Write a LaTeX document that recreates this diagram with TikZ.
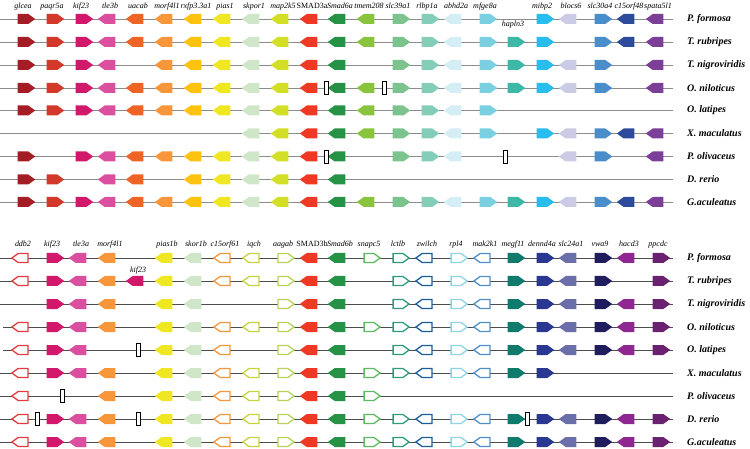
\documentclass[tikz,border=0pt]{standalone}
\usepackage{fontspec}
\setmainfont{Liberation Serif}
\usetikzlibrary{positioning, shapes.symbols}
% gene colours, upper block
\definecolor{colglcea}{HTML}{A51C24}
\definecolor{colpaqr}{HTML}{D2392B}
\definecolor{colkif}{HTML}{D1186A}
\definecolor{coltle}{HTML}{DB4F9F}
\definecolor{coluacab}{HTML}{EF6324}
\definecolor{colmorf}{HTML}{F7963B}
\definecolor{colrxfp}{HTML}{FFC20E}
\definecolor{colpias}{HTML}{F0E723}
\definecolor{colskor}{HTML}{CFE6C9}
\definecolor{colmapk}{HTML}{D3DF26}
\definecolor{colsmadthree}{HTML}{EE3A24}
\definecolor{colsmadsix}{HTML}{259245}
\definecolor{coltmem}{HTML}{8AC43F}
\definecolor{colslcnine}{HTML}{7DC38D}
\definecolor{colrlbp}{HTML}{84CDB9}
\definecolor{colabhd}{HTML}{D5EDF5}
\definecolor{colmfge}{HTML}{7ACFE0}
\definecolor{colhapln}{HTML}{3DB8A7}
\definecolor{colmibp}{HTML}{2ABCEC}
\definecolor{colblocs}{HTML}{CCCBE5}
\definecolor{colslcthirty}{HTML}{4A8DCB}
\definecolor{colcorf}{HTML}{2E4B9B}
\definecolor{colspata}{HTML}{7B3F98}
% gene colours, lower block
\definecolor{colddb}{HTML}{E23B3F}
\definecolor{coliqch}{HTML}{C8D23C}
\definecolor{colaagab}{HTML}{B6D35A}
\definecolor{colsnapc}{HTML}{5BBA62}
\definecolor{collctl}{HTML}{2E9B7A}
\definecolor{colzwilch}{HTML}{1B5C9B}
\definecolor{colrpl}{HTML}{8ED3E6}
\definecolor{colmak}{HTML}{4E8FCB}
\definecolor{colmegf}{HTML}{0E7B6D}
\definecolor{coldennd}{HTML}{2B3891}
\definecolor{colslctwentyfour}{HTML}{6A6EA9}
\definecolor{colvwa}{HTML}{1F1D5E}
\definecolor{colhacd}{HTML}{8E2790}
\definecolor{colppcdc}{HTML}{6A2170}

\begin{document}
\begin{tikzpicture}[x=1pt, y=-1pt,
    gene/.style={signal, draw=none, inner sep=0pt, minimum width=17.5pt,
      minimum height=10pt, signal pointer angle=72},
    fwd/.style={gene, signal to=east},
    rev/.style={gene, signal to=west},
    hollow/.style={fill=white, line width=1.3pt, minimum width=16pt, minimum height=9pt},
    glabel/.style={font=\fontsize{8}{9}\selectfont\itshape, inner sep=0pt, anchor=base},
    species/.style={font=\fontsize{10}{12}\selectfont\bfseries\itshape, inner sep=0pt},
    backbone/.style={line width=0.9pt, draw=black!45},
    backboneb/.style={line width=0.9pt, draw=black!70},
    gapbox/.style={draw=black, fill=white, line width=0.6pt, minimum width=4pt,
      minimum height=13pt, inner sep=0pt},
    % upper block genes
    glcea/.style={fwd, fill=colglcea},
    paqr5a/.style={fwd, fill=colpaqr},
    kif23/.style={fwd, fill=colkif},
    tle3b/.style={rev, fill=coltle},
    uacab/.style={rev, fill=coluacab},
    morf4l1/.style={rev, fill=colmorf},
    rxfp/.style={rev, fill=colrxfp},
    pias1/.style={rev, fill=colpias},
    skpor1/.style={rev, fill=colskor},
    mapk/.style={rev, fill=colmapk},
    SMAD3a/.style={rev, fill=colsmadthree},
    Smad6a/.style={rev, fill=colsmadsix},
    tmem/.style={rev, fill=coltmem},
    slc39a1/.style={fwd, fill=colslcnine},
    rlbp1a/.style={fwd, fill=colrlbp},
    abhd2a/.style={rev, fill=colabhd},
    mfge8a/.style={fwd, fill=colmfge},
    hapln3/.style={fwd, fill=colhapln},
    mibp2/.style={fwd, fill=colmibp},
    blocs6/.style={rev, fill=colblocs},
    slc30a4/.style={fwd, fill=colslcthirty},
    corf48/.style={rev, fill=colcorf},
    spata/.style={rev, fill=colspata},
    % lower block genes
    ddb2/.style={rev, hollow, draw=colddb},
    tle3a/.style={rev, fill=coltle},
    kif23r/.style={rev, fill=colkif},
    pias1b/.style={rev, fill=colpias},
    skor1b/.style={rev, fill=colskor},
    corf61/.style={rev, hollow, draw=colmorf},
    iqch/.style={rev, hollow, draw=coliqch},
    aagab/.style={fwd, hollow, draw=colaagab},
    SMAD3b/.style={rev, fill=colsmadthree},
    Smad6b/.style={rev, fill=colsmadsix},
    snapc5/.style={fwd, hollow, draw=colsnapc},
    lctlb/.style={fwd, hollow, draw=collctl},
    zwilch/.style={rev, hollow, draw=colzwilch},
    rpl4/.style={fwd, hollow, draw=colrpl},
    mak/.style={rev, hollow, draw=colmak},
    megf11/.style={fwd, fill=colmegf},
    dennd4a/.style={fwd, fill=coldennd},
    slc24a1/.style={rev, fill=colslctwentyfour},
    vwa9/.style={fwd, fill=colvwa},
    hacd3/.style={rev, fill=colhacd},
    ppcdc/.style={fwd, fill=colppcdc}]
  \useasboundingbox (0,0) rectangle (750,449);

  % ---------- upper block: gene names ----------
  \node[glabel] (a-glcea) at (23,8.5) {glcea};
  \node[glabel] (a-paqr5a) at (52,8.5) {paqr5a};
  \node[glabel] (a-kif23) at (81,8.5) {kif23};
  \node[glabel] (a-tle3b) at (110,8.5) {tle3b};
  \node[glabel] (a-uacab) at (138,8.5) {uacab};
  \node[glabel] (a-morf4l1) at (167,8.5) {morf4l1};
  \node[glabel] (a-rxfp) at (196,8.5) {rxfp3.3a1};
  \node[glabel] (a-pias1) at (225,8.5) {pias1};
  \node[glabel] (a-skpor1) at (254,8.5) {skpor1};
  \node[glabel] (a-mapk) at (283,8.5) {map2k5};
  \node[glabel] (a-SMAD3a) at (312,8.5) {\upshape SMAD3a};
  \node[glabel] (a-Smad6a) at (340,8.5) {Smad6a};
  \node[glabel] (a-tmem) at (369,8.5) {tmem208};
  \node[glabel] (a-slc39a1) at (398,8.5) {slc39a1};
  \node[glabel] (a-rlbp1a) at (427,8.5) {rlbp1a};
  \node[glabel] (a-abhd2a) at (456,8.5) {abhd2a};
  \node[glabel] (a-mfge8a) at (485,8.5) {mfge8a};
  \node[glabel] (a-hapln3) at (513,26.5) {hapln3};
  \node[glabel] (a-mibp2) at (542,8.5) {mibp2};
  \node[glabel] (a-blocs6) at (571,8.5) {blocs6};
  \node[glabel] (a-slc30a4) at (600,8.5) {slc30a4};
  \node[glabel] (a-corf48) at (629,8.5) {c15orf48};
  \node[glabel] (a-spata) at (658,8.5) {spata5l1};

  % ---------- upper block: backbones ----------
  \foreach \r/\y/\sp in {1/19/P. formosa, 2/42/T. rubripes, 3/65/T. nigroviridis,
      4/88/O. niloticus, 5/110.5/O. latipes, 6/133.5/X. maculatus,
      7/156.5/P. olivaceus, 8/179.5/D. rerio, 9/202/G.aculeatus} {
    \coordinate (a\r) at (0,\y);
    \coordinate (ae\r) at (673,\y);
    \draw[backbone] (a\r) -- (ae\r);
    \node[species, right=14pt of ae\r] (asp\r) {\sp};
  }

  % P. formosa
  \foreach \g in {glcea,paqr5a,kif23,tle3b,uacab,morf4l1,rxfp,pias1,skpor1,mapk,SMAD3a,%
      Smad6a,tmem,slc39a1,rlbp1a,abhd2a,mfge8a,mibp2,blocs6,slc30a4,corf48,spata}
    \node[\g] (a1-\g) at (a-\g |- a1) {};
  % T. rubripes
  \foreach \g in {glcea,paqr5a,kif23,tle3b,uacab,morf4l1,rxfp,pias1,skpor1,mapk,SMAD3a,%
      Smad6a,tmem,slc39a1,rlbp1a,abhd2a,mfge8a,hapln3,mibp2,slc30a4,corf48,spata}
    \node[\g] (a2-\g) at (a-\g |- a2) {};
  % T. nigroviridis
  \foreach \g in {glcea,paqr5a,kif23,tle3b,morf4l1,rxfp,pias1,skpor1,mapk,SMAD3a,%
      Smad6a,slc39a1,rlbp1a,abhd2a,mfge8a,hapln3,mibp2,blocs6,slc30a4,spata}
    \node[\g] (a3-\g) at (a-\g |- a3) {};
  % O. niloticus
  \foreach \g in {glcea,paqr5a,kif23,tle3b,uacab,morf4l1,rxfp,pias1,skpor1,mapk,SMAD3a,%
      Smad6a,tmem,slc39a1,rlbp1a,abhd2a,mfge8a,hapln3,mibp2,blocs6,slc30a4,spata}
    \node[\g] (a4-\g) at (a-\g |- a4) {};
  \node[gapbox] (a4-gap1) at (326,0 |- a4) {};
  \node[gapbox] (a4-gap2) at (384,0 |- a4) {};
  % O. latipes
  \foreach \g in {glcea,paqr5a,kif23,tle3b,uacab,morf4l1,rxfp,pias1,skpor1,mapk,SMAD3a,%
      Smad6a,tmem,slc39a1,rlbp1a,abhd2a,mfge8a}
    \node[\g] (a5-\g) at (a-\g |- a5) {};
  % X. maculatus
  \foreach \g in {skpor1,mapk,SMAD3a,Smad6a,tmem,slc39a1,rlbp1a,abhd2a,mfge8a,%
      mibp2,blocs6,slc30a4,corf48,spata}
    \node[\g] (a6-\g) at (a-\g |- a6) {};
  % P. olivaceus
  \foreach \g in {glcea,kif23,tle3b,uacab,morf4l1,rxfp,pias1,skpor1,mapk,SMAD3a,%
      Smad6a,slc39a1,rlbp1a,abhd2a,blocs6,slc30a4,spata}
    \node[\g] (a7-\g) at (a-\g |- a7) {};
  \node[gapbox] (a7-gap1) at (326,0 |- a7) {};
  \node[gapbox] (a7-gap2) at (505,0 |- a7) {};
  % D. rerio
  \foreach \g in {glcea,paqr5a,tle3b,uacab,rxfp,pias1,skpor1,mapk,SMAD3a,Smad6a}
    \node[\g] (a8-\g) at (a-\g |- a8) {};
  % G.aculeatus
  \foreach \g in {glcea,paqr5a,kif23,tle3b,uacab,morf4l1,rxfp,pias1,skpor1,mapk,SMAD3a,%
      Smad6a,tmem,slc39a1,rlbp1a,abhd2a,mfge8a,hapln3,mibp2,blocs6,slc30a4,corf48,spata}
    \node[\g] (a9-\g) at (a-\g |- a9) {};

  % ---------- lower block: gene names ----------
  \node[glabel] (b-ddb2) at (23,247) {ddb2};
  \node[glabel] (b-kif23) at (52,247) {kif23};
  \node[glabel] (b-tle3a) at (81,247) {tle3a};
  \node[glabel] (b-morf4l1) at (110,247) {morf4l1};
  \node[glabel] (b-kif23r) at (138,272.5) {kif23};
  \node[glabel] (b-pias1b) at (167,247) {pias1b};
  \node[glabel] (b-skor1b) at (196,247) {skor1b};
  \node[glabel] (b-corf61) at (225,247) {c15orf61};
  \node[glabel] (b-iqch) at (254,247) {iqch};
  \node[glabel] (b-aagab) at (283,247) {aagab};
  \node[glabel] (b-SMAD3b) at (312,247) {\upshape SMAD3b};
  \node[glabel] (b-Smad6b) at (340,247) {Smad6b};
  \node[glabel] (b-snapc5) at (369,247) {snapc5};
  \node[glabel] (b-lctlb) at (398,247) {lctlb};
  \node[glabel] (b-zwilch) at (427,247) {zwilch};
  \node[glabel] (b-rpl4) at (456,247) {rpl4};
  \node[glabel] (b-mak) at (485,247) {mak2k1};
  \node[glabel] (b-megf11) at (513,247) {megf11};
  \node[glabel] (b-dennd4a) at (542,247) {dennd4a};
  \node[glabel] (b-slc24a1) at (571,247) {slc24a1};
  \node[glabel] (b-vwa9) at (600,247) {vwa9};
  \node[glabel] (b-hacd3) at (629,247) {hacd3};
  \node[glabel] (b-ppcdc) at (658,247) {ppcdc};

  % ---------- lower block: backbones ----------
  \foreach \r/\x/\y/\sp in {1/0/258/P. formosa, 2/0/281/T. rubripes, 3/0/304/T. nigroviridis,
      4/3/327/O. niloticus, 5/3/350/O. latipes, 6/0/373/X. maculatus,
      7/0/396/P. olivaceus, 8/0/419/D. rerio, 9/0/442/G.aculeatus} {
    \coordinate (b\r) at (\x,\y);
    \coordinate (be\r) at (673,\y);
    \draw[backboneb] (b\r) -- (be\r);
    \node[species, right=14pt of be\r] (bsp\r) {\sp};
  }

  % P. formosa
  \foreach \g in {ddb2,kif23,tle3a,morf4l1,pias1b,skor1b,corf61,iqch,aagab,SMAD3b,Smad6b,%
      snapc5,lctlb,zwilch,rpl4,mak,megf11,dennd4a,slc24a1,vwa9,hacd3,ppcdc}
    \node[\g] (b1-\g) at (b-\g |- b1) {};
  % T. rubripes
  \foreach \g in {ddb2,kif23,tle3a,morf4l1,kif23r,pias1b,skor1b,corf61,iqch,aagab,SMAD3b,%
      Smad6b,lctlb,zwilch,rpl4,mak,megf11,dennd4a,slc24a1,vwa9,ppcdc}
    \node[\g] (b2-\g) at (b-\g |- b2) {};
  % T. nigroviridis
  \foreach \g in {kif23,tle3a,morf4l1,pias1b,skor1b,aagab,SMAD3b,Smad6b,%
      lctlb,zwilch,rpl4,mak,megf11,dennd4a,slc24a1,vwa9,hacd3,ppcdc}
    \node[\g] (b3-\g) at (b-\g |- b3) {};
  % O. niloticus
  \foreach \g in {ddb2,kif23,tle3a,morf4l1,pias1b,skor1b,corf61,iqch,aagab,SMAD3b,Smad6b,%
      snapc5,lctlb,zwilch,rpl4,mak,megf11,dennd4a,slc24a1,vwa9,hacd3,ppcdc}
    \node[\g] (b4-\g) at (b-\g |- b4) {};
  % O. latipes
  \foreach \g in {ddb2,kif23,tle3a,pias1b,skor1b,corf61,aagab,SMAD3b,Smad6b,%
      lctlb,zwilch,rpl4,mak,megf11,dennd4a,slc24a1,vwa9,hacd3,ppcdc}
    \node[\g] (b5-\g) at (b-\g |- b5) {};
  \node[gapbox] (b5-gap1) at (b-kif23r |- b5) {};
  % X. maculatus
  \foreach \g in {ddb2,kif23,tle3a,morf4l1,pias1b,skor1b,corf61,iqch,aagab,SMAD3b,Smad6b,%
      snapc5,lctlb,zwilch,rpl4,mak,megf11,dennd4a}
    \node[\g] (b6-\g) at (b-\g |- b6) {};
  % P. olivaceus
  \foreach \g in {ddb2,morf4l1,pias1b,skor1b,corf61,iqch,aagab,SMAD3b,Smad6b,snapc5}
    \node[\g] (b7-\g) at (b-\g |- b7) {};
  \node[gapbox] (b7-gap1) at (62,0 |- b7) {};
  % D. rerio
  \foreach \g in {ddb2,kif23,tle3a,morf4l1,pias1b,skor1b,corf61,iqch,aagab,SMAD3b,Smad6b,%
      snapc5,lctlb,zwilch,rpl4,mak,megf11,dennd4a,slc24a1,vwa9,hacd3,ppcdc}
    \node[\g] (b8-\g) at (b-\g |- b8) {};
  \node[gapbox] (b8-gap1) at (37,0 |- b8) {};
  \node[gapbox] (b8-gap2) at (b-kif23r |- b8) {};
  \node[gapbox] (b8-gap3) at (527,0 |- b8) {};
  % G.aculeatus
  \foreach \g in {ddb2,kif23,tle3a,morf4l1,pias1b,skor1b,corf61,iqch,aagab,SMAD3b,Smad6b,%
      snapc5,lctlb,zwilch,rpl4,mak,megf11,dennd4a,slc24a1,vwa9,hacd3,ppcdc}
    \node[\g] (b9-\g) at (b-\g |- b9) {};
\end{tikzpicture}
\end{document}
